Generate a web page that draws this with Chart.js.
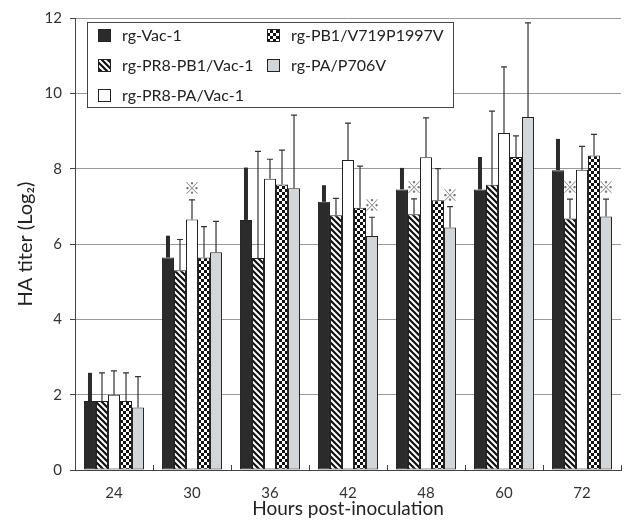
<!DOCTYPE html>
<html>
<head>
<meta charset="utf-8">
<script src="https://cdn.jsdelivr.net/npm/chart.js@4.4.1/dist/chart.umd.min.js"></script>
<style>
  html, body { margin: 0; padding: 0; background: #fff; }
  #wrap { width: 629px; height: 520px; position: relative; }
</style>
</head>
<body>
<div id="wrap"><canvas id="haChart"></canvas></div>
<script>
// categories (hours post-inoculation)
const categories = ['24', '30', '36', '42', '48', '60', '72'];
const seriesNames = ['rg-Vac-1', 'rg-PR8-PB1/Vac-1', 'rg-PR8-PA/Vac-1', 'rg-PB1/V719P1997V', 'rg-PA/P706V'];

// mean HA titer (log2)
const vac1   = [1.83, 5.64, 6.64, 7.12, 7.45, 7.45, 7.96];
const pr8pb1 = [1.83, 5.30, 5.63, 6.76, 6.79, 7.57, 6.68];
const pr8pa  = [2.00, 6.65, 7.73, 8.23, 8.30, 8.95, 7.97];
const pb1mut = [1.83, 5.64, 7.58, 6.96, 7.16, 8.31, 8.35];
const pamut  = [1.66, 5.78, 7.48, 6.21, 6.44, 9.37, 6.73];

// top of the error bars (mean + SD)
const vac1Err   = [2.58, 6.22, 8.03, 7.56, 8.02, 8.31, 8.79];
const pr8pb1Err = [2.58, 6.12, 8.46, 7.21, 7.20, 9.53, 7.19];
const pr8paErr  = [2.63, 7.17, 8.25, 9.21, 9.35, 10.70, 8.59];
const pb1mutErr = [2.58, 6.46, 8.49, 8.07, 8.00, 8.87, 8.91];
const pamutErr  = [2.48, 6.60, 9.42, 6.71, 6.99, 11.87, 7.19];

// significance marks (series index + category)
const starSeries = [2, 4, 1, 4, 1, 4];
const starCats   = ['30', '42', '48', '48', '72', '72'];

const yTicks = [0, 2, 4, 6, 8, 10, 12];

const FONT = 'Lato, "Open Sans", "Noto Sans", sans-serif';
Chart.defaults.font.family = FONT;
Chart.defaults.color = '#2a2a2a';

// fill patterns
function makePattern(kind) {
    const c = document.createElement('canvas');
    const g = c.getContext('2d');
    c.width = 6; c.height = 6;
    if (kind === 'stripe') {
        g.fillStyle = '#fff';
        g.fillRect(0, 0, 6, 6);
        g.strokeStyle = '#111';
        g.lineWidth = 2.2;
        g.beginPath();
        g.moveTo(-3, -3); g.lineTo(9, 9);
        g.moveTo(-3, 3); g.lineTo(3, 9);
        g.moveTo(3, -3); g.lineTo(9, 3);
        g.stroke();
    } else if (kind === 'checker') {
        g.fillStyle = '#fff';
        g.fillRect(0, 0, 6, 6);
        g.fillStyle = '#111';
        g.fillRect(0, 0, 3, 3);
        g.fillRect(3, 3, 3, 3);
    }
    return g.createPattern(c, 'repeat');
}

const fills = ['#2b2b2b', makePattern('stripe'), '#ffffff', makePattern('checker'), '#d3d6d8'];
const values = [vac1, pr8pb1, pr8pa, pb1mut, pamut];
const errTops = [vac1Err, pr8pb1Err, pr8paErr, pb1mutErr, pamutErr];

const datasets = seriesNames.map((name, i) => ({
    label: name,
    data: values[i],
    errTop: errTops[i],
    backgroundColor: fills[i],
    borderColor: '#222',
    borderWidth: 1,
    borderSkipped: false,
    categoryPercentage: 0.77,
    barPercentage: 1.0
}));

// error bars, stars and upward x ticks
const extrasPlugin = {
    id: 'extras',
    afterDatasetsDraw(chart) {
        const ctx = chart.ctx;
        const yS = chart.scales.y;
        const xS = chart.scales.x;
        ctx.save();
        chart.data.datasets.forEach((ds, di) => {
            const meta = chart.getDatasetMeta(di);
            meta.data.forEach((bar, i) => {
                const top = yS.getPixelForValue(ds.errTop[i]);
                if (di === 0) {
                    ctx.fillStyle = '#2b2b2b';
                    ctx.fillRect(bar.x - 2, top, 4, bar.y - top);
                } else {
                    ctx.strokeStyle = '#333';
                    ctx.lineWidth = 1.2;
                    ctx.beginPath();
                    ctx.moveTo(bar.x, bar.y);
                    ctx.lineTo(bar.x, top);
                    ctx.moveTo(bar.x - 3, top);
                    ctx.lineTo(bar.x + 3, top);
                    ctx.stroke();
                }
            });
        });
        // stars
        ctx.fillStyle = '#7a7a7a';
        ctx.font = 'bold 16px "Noto Sans CJK JP", "DejaVu Sans", sans-serif';
        ctx.textAlign = 'center';
        ctx.textBaseline = 'middle';
        starSeries.forEach((s, k) => {
            const ci = categories.indexOf(starCats[k]);
            const bar = chart.getDatasetMeta(s).data[ci];
            const top = yS.getPixelForValue(chart.data.datasets[s].errTop[ci]);
            ctx.fillText('\u203B', bar.x, top - 12);
        });
        // small upward ticks at the category boundaries
        ctx.strokeStyle = '#444';
        ctx.lineWidth = 1;
        ctx.beginPath();
        const step = xS.width / categories.length;
        for (let i = 0; i <= categories.length; i++) {
            const x = Math.round(xS.left + i * step) + 0.5;
            ctx.moveTo(x, yS.bottom);
            ctx.lineTo(x, yS.bottom - 5);
        }
        ctx.stroke();
        ctx.restore();
    },
    afterDraw(chart) {
        // legend box, filled column by column like the original
        const ctx = chart.ctx;
        const box = { x: 87.5, y: 22.5, w: 366, h: 85 };
        ctx.save();
        ctx.fillStyle = '#fff';
        ctx.fillRect(box.x, box.y, box.w, box.h);
        ctx.strokeStyle = '#444';
        ctx.lineWidth = 1;
        ctx.strokeRect(box.x, box.y, box.w, box.h);
        const colX = [98, 267];
        const rowY = [36, 66, 96];
        ctx.font = '16px ' + FONT;
        ctx.textBaseline = 'middle';
        ctx.textAlign = 'left';
        seriesNames.forEach((name, k) => {
            const col = k < 3 ? 0 : 1;
            const row = k < 3 ? k : k - 3;
            const x = colX[col], y = rowY[row];
            ctx.fillStyle = fills[k];
            ctx.fillRect(x, y - 7, 13, 13);
            ctx.strokeStyle = '#222';
            ctx.strokeRect(x + 0.5, y - 6.5, 12, 12);
            ctx.fillStyle = '#222';
            ctx.fillText(name, x + 24, y);
        });
        ctx.restore();
    }
};

const ctx = document.getElementById('haChart').getContext('2d');
const haChart = new Chart(ctx, {
    type: 'bar',
    data: { labels: categories, datasets: datasets },
    options: {
        responsive: true,
        maintainAspectRatio: false,
        animation: false,
        layout: { padding: { top: 18, right: 8, left: 0, bottom: 0 } },
        plugins: {
            legend: { display: false },
            tooltip: { enabled: false }
        },
        scales: {
            x: {
                grid: { display: false, drawTicks: false },
                border: { display: true, color: '#444', width: 1 },
                ticks: { padding: 14, font: { size: 15 }, color: '#333' },
                title: {
                    display: true,
                    text: 'Hours post-inoculation',
                    font: { size: 19 },
                    color: '#222',
                    padding: { top: 0, bottom: 0 }
                },
                afterFit(scale) { scale.height = 50; }
            },
            y: {
                min: 0,
                max: 12,
                afterBuildTicks(scale) { scale.ticks = yTicks.map(v => ({ value: v })); },
                grid: { color: '#9a9a9a', lineWidth: 1, tickLength: 5, tickColor: '#444' },
                border: { display: true, color: '#444', width: 1 },
                ticks: { padding: 8, font: { size: 15 }, color: '#333' },
                title: {
                    display: true,
                    text: 'HA titer (Log\u2082)',
                    font: { size: 20 },
                    color: '#222',
                    padding: { top: 14, bottom: 0 }
                },
                afterFit(scale) { scale.width = 75; }
            }
        }
    },
    plugins: [extrasPlugin]
});
</script>
</body>
</html>
